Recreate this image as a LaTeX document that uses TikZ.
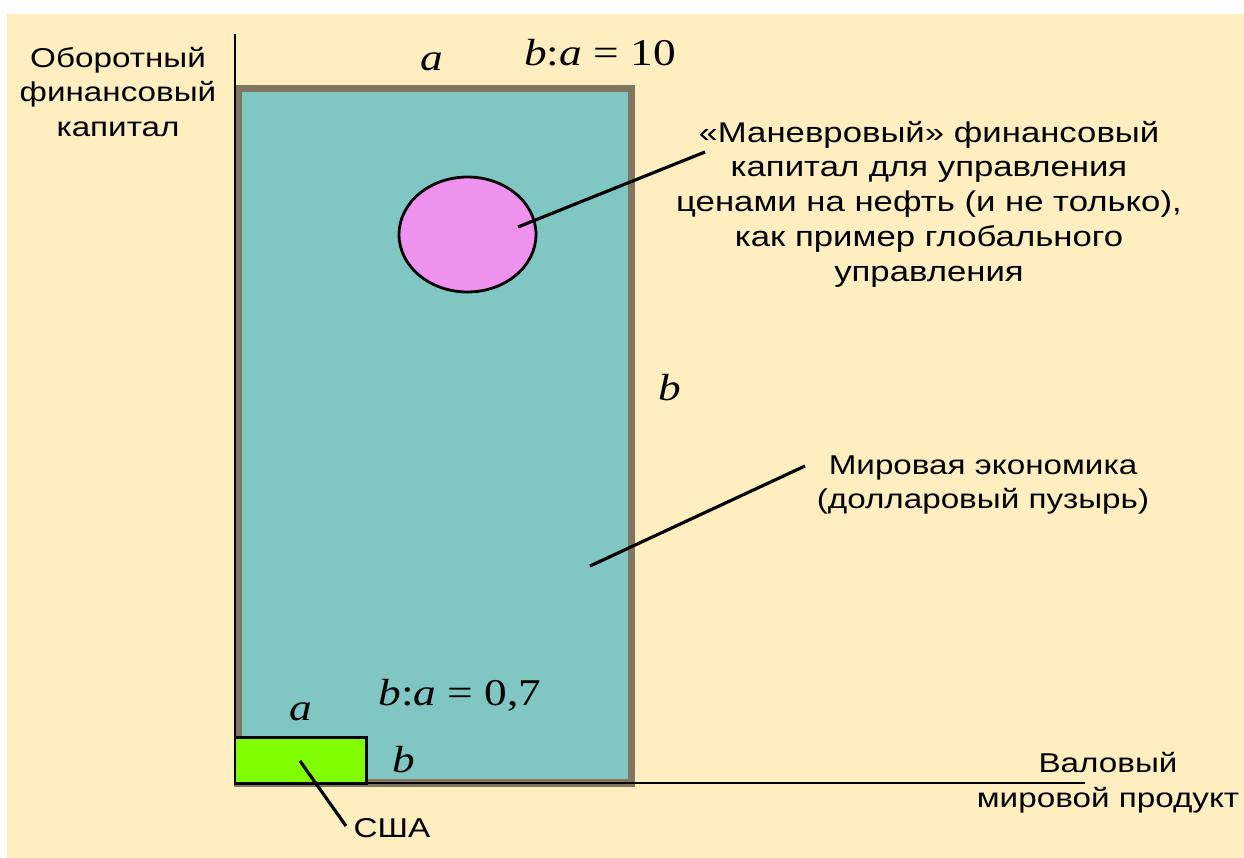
\documentclass[tikz,border=0pt]{standalone}
\usepackage{fontspec}
\setmainfont{Liberation Sans}[FakeStretch=1.22]
\newfontfamily\serifit{Liberation Serif}[FakeStretch=1.2]
\usetikzlibrary{shapes.geometric}

\definecolor{paper}{RGB}{255,238,192}
\definecolor{sea}{RGB}{128,198,194}
\definecolor{frame}{RGB}{128,118,96}
\definecolor{oil}{RGB}{238,146,238}
\definecolor{usgreen}{RGB}{128,255,0}

\newcommand{\ratiotext}[1]{\itshape b\upshape:\itshape a\upshape\ = #1}

\begin{document}
\begin{tikzpicture}[x=0.02cm, y=-0.02cm,
    lbl/.style={font=\fontsize{15.5}{19.8}\selectfont, align=center, inner sep=0pt},
    sym/.style={font=\serifit\fontsize{21.5}{24}\selectfont, inner sep=0pt},
    axis/.style={line width=1.2pt},
    leader/.style={line width=1.8pt},
    world/.style={fill=sea, draw=frame, line width=4pt},
    usbox/.style={draw, fill=usgreen, line width=1.6pt},
    bubble/.style={ellipse, draw, fill=oil, line width=1.6pt,
        minimum width=2.74cm, minimum height=2.3cm, inner sep=0pt},
]
    \useasboundingbox (0,0) rectangle (1244,858);
    \fill[white] (0,0) rectangle (1244,858);
    \fill[paper] (7,14) rectangle (1244,858);

    % world economy and the axes
    \draw[world] (238,88.5) rectangle (631.5,783);
    \coordinate (origin) at (235,783);
    \coordinate (ytop) at (235,34);
    \coordinate (xend) at (1085,783);
    \draw[axis] (ytop) -- (origin) -- (xend);

    % USA
    \draw[usbox] (235,737.5) rectangle (366.5,783.5);

    % manoeuvre capital
    \node[bubble] (oilcap) at (467.5,234.5) {};

    % labels
    \node[lbl] (ylbl) at (118,92) {Оборотный\\финансовый\\капитал};
    \node[lbl] (xlbl) at (1108,783) {Валовый\\мировой продукт};
    \node[lbl, font=\fontsize{16.2}{19.8}\selectfont] (oillbl) at (929,204)
        {«Маневровый» финансовый\\капитал для управления\\ценами на нефть (и не только),\\как пример глобального\\управления};
    \node[lbl] (worldlbl) at (983,485) {Мировая экономика\\(долларовый пузырь)};
    \node[lbl] (uslbl) at (392,828) {США};

    \node[sym] (wa) at (432,62) {\itshape a};
    \node[sym] (wratio) at (600,53) {\ratiotext{10}};
    \node[sym] (wb) at (670,388) {\itshape b};
    \node[sym] (usratio) at (460,695) {\ratiotext{0,7}};
    \node[sym] (usa) at (301,712) {\itshape a};
    \node[sym] (usb) at (404,760) {\itshape b};

    % leader lines
    \coordinate (oilin) at (518,227);
    \coordinate (oilout) at (705,152);
    \coordinate (worldin) at (590,566);
    \coordinate (worldout) at (805,466);
    \coordinate (usin) at (300,761);
    \coordinate (usout) at (346,826);
    \draw[leader] (oilin) -- (oilout);
    \draw[leader] (worldin) -- (worldout);
    \draw[leader] (usin) -- (usout);
\end{tikzpicture}
\end{document}
